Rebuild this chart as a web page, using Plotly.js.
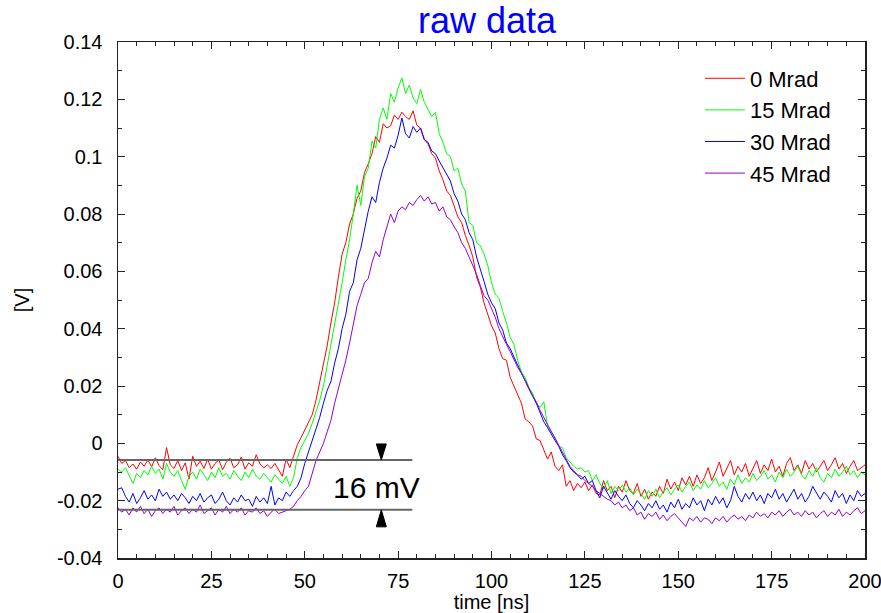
<!DOCTYPE html>
<html>
<head>
<meta charset="utf-8">
<script src="https://cdn.plot.ly/plotly-3.0.1.min.js"></script>
<style>html,body{margin:0;padding:0;background:#fff}#chart{width:881px;height:613px}</style>
</head>
<body>
<div id="chart"></div>
<script>
// sampling of the time axis [ns]
const timeStart = 0;
const timeStep = 1;

const seriesNames = ['0 Mrad', '15 Mrad', '30 Mrad', '45 Mrad'];

// signal [V], one value per ns from 0 to 200 ns
const mrad0 = [
-0.0045,-0.0070,-0.0060,-0.0085,-0.0072,-0.0090,-0.0065,-0.0080,-0.0058,-0.0082,
-0.0050,-0.0078,-0.0092,-0.0015,-0.0075,-0.0088,-0.0060,-0.0095,-0.0068,-0.0125,
-0.0045,-0.0080,-0.0062,-0.0088,-0.0055,-0.0090,-0.0070,-0.0058,-0.0092,-0.0066,
-0.0052,-0.0085,-0.0075,-0.0048,-0.0090,-0.0068,-0.0080,-0.0040,-0.0072,-0.0086,
-0.0075,-0.0088,-0.0070,-0.0092,-0.0115,-0.0055,-0.0085,-0.0045,-0.0005,0.0020,
0.0045,0.0070,0.0100,0.0150,0.0215,0.0280,0.0340,0.0420,0.0490,0.0580,
0.0660,0.0700,0.0765,0.0800,0.0855,0.0880,0.0945,0.0975,0.1010,0.1070,
0.1050,0.1115,0.1100,0.1108,0.1145,0.1130,0.1155,0.1140,0.1130,0.1160,
0.1110,0.1100,0.1060,0.1045,0.1010,0.0995,0.0950,0.0920,0.0880,0.0865,
0.0830,0.0790,0.0770,0.0725,0.0690,0.0650,0.0580,0.0545,0.0490,0.0450,
0.0410,0.0385,0.0330,0.0295,0.0290,0.0230,0.0200,0.0165,0.0140,0.0085,
0.0075,0.0060,0.0015,0.0010,-0.0020,-0.0055,-0.0030,-0.0080,-0.0095,-0.0075,
-0.0150,-0.0130,-0.0165,-0.0140,-0.0155,-0.0135,-0.0165,-0.0145,-0.0175,-0.0180,
-0.0130,-0.0165,-0.0150,-0.0190,-0.0150,-0.0170,-0.0130,-0.0165,-0.0175,-0.0140,
-0.0185,-0.0160,-0.0195,-0.0170,-0.0185,-0.0150,-0.0175,-0.0125,-0.0160,-0.0135,
-0.0165,-0.0120,-0.0145,-0.0115,-0.0150,-0.0110,-0.0140,-0.0120,-0.0085,-0.0130,
-0.0100,-0.0065,-0.0115,-0.0090,-0.0060,-0.0110,-0.0080,-0.0100,-0.0070,-0.0115,
-0.0085,-0.0060,-0.0105,-0.0075,-0.0095,-0.0055,-0.0100,-0.0080,-0.0115,-0.0070,
-0.0050,-0.0095,-0.0075,-0.0105,-0.0060,-0.0090,-0.0070,-0.0100,-0.0080,-0.0060,
-0.0095,-0.0075,-0.0050,-0.0090,-0.0070,-0.0105,-0.0080,-0.0060,-0.0095,-0.0085,-0.0075
];

const mrad15 = [
-0.0090,-0.0100,-0.0085,-0.0115,-0.0140,-0.0105,-0.0120,-0.0095,-0.0110,-0.0080,
-0.0105,-0.0090,-0.0125,-0.0070,-0.0100,-0.0115,-0.0095,-0.0130,-0.0160,-0.0115,
-0.0100,-0.0125,-0.0090,-0.0110,-0.0130,-0.0100,-0.0120,-0.0085,-0.0115,-0.0105,
-0.0125,-0.0095,-0.0115,-0.0130,-0.0100,-0.0120,-0.0090,-0.0115,-0.0125,-0.0105,
-0.0120,-0.0135,-0.0110,-0.0125,-0.0140,-0.0115,-0.0150,-0.0120,-0.0050,-0.0015,
0.0010,0.0035,0.0070,0.0110,0.0150,0.0200,0.0270,0.0340,0.0410,0.0490,
0.0560,0.0640,0.0710,0.0800,0.0900,0.0830,0.0930,0.0960,0.1055,0.1030,
0.1130,0.1170,0.1130,0.1220,0.1190,0.1240,0.1275,0.1220,0.1250,0.1205,
0.1185,0.1235,0.1190,0.1165,0.1140,0.1155,0.1080,0.1050,0.1010,0.1000,
0.0950,0.0960,0.0905,0.0880,0.0770,0.0760,0.0700,0.0690,0.0660,0.0620,
0.0560,0.0520,0.0505,0.0460,0.0420,0.0370,0.0345,0.0290,0.0250,0.0230,
0.0195,0.0175,0.0140,0.0125,0.0145,0.0060,0.0040,0.0020,-0.0010,-0.0015,
-0.0050,-0.0065,-0.0080,-0.0090,-0.0085,-0.0100,-0.0095,-0.0130,-0.0110,-0.0140,
-0.0160,-0.0130,-0.0175,-0.0150,-0.0165,-0.0145,-0.0170,-0.0155,-0.0180,-0.0160,
-0.0175,-0.0195,-0.0165,-0.0185,-0.0160,-0.0190,-0.0170,-0.0155,-0.0180,-0.0160,
-0.0145,-0.0170,-0.0150,-0.0135,-0.0165,-0.0145,-0.0160,-0.0130,-0.0155,-0.0140,
-0.0120,-0.0150,-0.0135,-0.0160,-0.0125,-0.0145,-0.0110,-0.0140,-0.0120,-0.0135,
-0.0105,-0.0130,-0.0115,-0.0095,-0.0125,-0.0110,-0.0135,-0.0100,-0.0120,-0.0090,
-0.0115,-0.0100,-0.0080,-0.0110,-0.0125,-0.0095,-0.0115,-0.0085,-0.0120,-0.0135,
-0.0105,-0.0120,-0.0090,-0.0115,-0.0100,-0.0080,-0.0110,-0.0095,-0.0120,-0.0100,-0.0110
];

const mrad30 = [
-0.0160,-0.0155,-0.0185,-0.0205,-0.0175,-0.0210,-0.0190,-0.0165,-0.0195,-0.0180,
-0.0200,-0.0160,-0.0185,-0.0170,-0.0195,-0.0180,-0.0200,-0.0175,-0.0190,-0.0210,
-0.0185,-0.0200,-0.0175,-0.0205,-0.0190,-0.0180,-0.0210,-0.0195,-0.0170,-0.0200,
-0.0215,-0.0190,-0.0205,-0.0180,-0.0200,-0.0195,-0.0220,-0.0185,-0.0205,-0.0190,
-0.0210,-0.0150,-0.0215,-0.0190,-0.0200,-0.0170,-0.0185,-0.0165,-0.0150,-0.0120,
-0.0070,-0.0030,0.0010,0.0050,0.0090,0.0140,0.0185,0.0215,0.0280,0.0330,
0.0400,0.0450,0.0530,0.0560,0.0640,0.0680,0.0750,0.0810,0.0860,0.0840,
0.0910,0.0960,0.0995,0.1040,0.1030,0.1075,0.1135,0.1080,0.1065,0.1105,
0.1085,0.1100,0.1060,0.1050,0.1020,0.1010,0.0985,0.0960,0.0935,0.0915,
0.0870,0.0845,0.0800,0.0780,0.0735,0.0710,0.0650,0.0610,0.0565,0.0520,
0.0490,0.0470,0.0420,0.0395,0.0350,0.0330,0.0300,0.0275,0.0245,0.0220,
0.0190,0.0165,0.0140,0.0110,0.0075,0.0055,0.0030,0.0010,-0.0010,-0.0040,
-0.0060,-0.0085,-0.0100,-0.0110,-0.0125,-0.0115,-0.0140,-0.0130,-0.0165,-0.0190,
-0.0150,-0.0175,-0.0195,-0.0165,-0.0185,-0.0200,-0.0180,-0.0210,-0.0225,-0.0200,
-0.0215,-0.0235,-0.0210,-0.0225,-0.0200,-0.0230,-0.0215,-0.0240,-0.0205,-0.0225,
-0.0195,-0.0230,-0.0210,-0.0225,-0.0190,-0.0215,-0.0200,-0.0235,-0.0195,-0.0215,
-0.0185,-0.0210,-0.0190,-0.0225,-0.0200,-0.0150,-0.0185,-0.0205,-0.0175,-0.0195,
-0.0170,-0.0200,-0.0180,-0.0210,-0.0175,-0.0190,-0.0160,-0.0195,-0.0175,-0.0205,
-0.0180,-0.0160,-0.0195,-0.0175,-0.0205,-0.0185,-0.0150,-0.0175,-0.0195,-0.0170,
-0.0185,-0.0205,-0.0165,-0.0190,-0.0175,-0.0210,-0.0180,-0.0200,-0.0165,-0.0185,-0.0175
];

const mrad45 = [
-0.0225,-0.0240,-0.0230,-0.0250,-0.0225,-0.0240,-0.0220,-0.0245,-0.0230,-0.0255,
-0.0235,-0.0225,-0.0245,-0.0230,-0.0240,-0.0220,-0.0250,-0.0235,-0.0225,-0.0245,
-0.0230,-0.0240,-0.0215,-0.0245,-0.0235,-0.0225,-0.0250,-0.0230,-0.0240,-0.0220,
-0.0245,-0.0230,-0.0240,-0.0225,-0.0250,-0.0235,-0.0240,-0.0225,-0.0245,-0.0235,
-0.0255,-0.0240,-0.0230,-0.0245,-0.0240,-0.0235,-0.0230,-0.0220,-0.0200,-0.0185,
-0.0165,-0.0150,-0.0100,-0.0060,-0.0030,0.0000,0.0040,0.0080,0.0140,0.0190,
0.0230,0.0290,0.0350,0.0420,0.0480,0.0520,0.0560,0.0575,0.0630,0.0670,
0.0650,0.0710,0.0760,0.0800,0.0770,0.0810,0.0825,0.0815,0.0840,0.0830,
0.0850,0.0865,0.0845,0.0860,0.0835,0.0840,0.0810,0.0825,0.0790,0.0780,
0.0755,0.0735,0.0700,0.0680,0.0650,0.0620,0.0590,0.0550,0.0515,0.0500,
0.0470,0.0440,0.0400,0.0370,0.0345,0.0320,0.0290,0.0265,0.0245,0.0215,
0.0190,0.0165,0.0145,0.0115,0.0090,0.0070,0.0040,0.0015,-0.0005,-0.0030,
-0.0060,-0.0080,-0.0095,-0.0110,-0.0115,-0.0130,-0.0140,-0.0150,-0.0165,-0.0175,
-0.0185,-0.0195,-0.0200,-0.0215,-0.0205,-0.0225,-0.0215,-0.0235,-0.0225,-0.0250,
-0.0240,-0.0265,-0.0245,-0.0255,-0.0240,-0.0265,-0.0250,-0.0270,-0.0255,-0.0245,
-0.0260,-0.0275,-0.0290,-0.0260,-0.0270,-0.0255,-0.0275,-0.0260,-0.0265,-0.0280,
-0.0260,-0.0270,-0.0255,-0.0275,-0.0260,-0.0250,-0.0265,-0.0255,-0.0270,-0.0250,
-0.0260,-0.0240,-0.0255,-0.0245,-0.0260,-0.0240,-0.0250,-0.0235,-0.0255,-0.0240,
-0.0230,-0.0250,-0.0240,-0.0255,-0.0235,-0.0250,-0.0240,-0.0260,-0.0245,-0.0235,
-0.0255,-0.0240,-0.0250,-0.0230,-0.0255,-0.0240,-0.0250,-0.0235,-0.0225,-0.0245,-0.0235
];

const seriesValues = [mrad0, mrad15, mrad30, mrad45];
const seriesColors = ['#ff0000', '#00ff00', '#0000ff', '#9400d3'];

const xTickVals = [0, 25, 50, 75, 100, 125, 150, 175, 200];
const xTickText = ['0', '25', '50', '75', '100', '125', '150', '175', '200'];
const yTickVals = [-0.04, -0.02, 0, 0.02, 0.04, 0.06, 0.08, 0.1, 0.12, 0.14];
const yTickText = ['-0.04', '-0.02', '0', '0.02', '0.04', '0.06', '0.08', '0.1', '0.12', '0.14'];

// baseline markers for the "16 mV" annotation
const baselineHigh = -0.0058;
const baselineLow = -0.0232;
const markerEnd = 78.8;
const arrowAt = 70.5;

const traces = seriesValues.map((vals, i) => ({
  type: 'scatter', mode: 'lines',
  x0: timeStart, dx: timeStep, y: vals,
  name: seriesNames[i],
  line: {color: seriesColors[i], width: 1}
}));

const FONT = 'Liberation Sans, Arial, Helvetica, sans-serif';

const axisCommon = {
  showgrid: false, zeroline: false,
  showline: true, linecolor: '#222', linewidth: 1.5,
  mirror: 'ticks', ticks: 'inside', ticklen: 7, tickwidth: 1, tickcolor: '#222',
  ticklabeloverflow: 'allow',
  tickfont: {family: FONT, size: 20, color: '#000'}
};

const layout = {
  width: 881, height: 613,
  margin: {l: 118, r: 16, t: 42, b: 55},
  paper_bgcolor: '#fff', plot_bgcolor: '#fff',
  font: {family: FONT, color: '#000'},
  title: {text: 'raw data', font: {family: FONT, size: 36, color: '#0000ff'},
          x: 0.494, xref: 'paper', xanchor: 'center', y: 0.966, yref: 'container', yanchor: 'middle'},
  showlegend: true,
  legend: {x: 0.779, y: 0.97, xanchor: 'left', yanchor: 'top', bgcolor: 'rgba(0,0,0,0)',
           borderwidth: 0, font: {family: FONT, size: 22, color: '#000'}, itemwidth: 40},
  xaxis: Object.assign({}, axisCommon, {
    range: [0, 200], tickmode: 'array', tickvals: xTickVals, ticktext: xTickText,
    minor: {dtick: 5, ticks: 'inside', ticklen: 4, tickcolor: '#222', showgrid: false},
    ticklabelstandoff: 4,
    title: {text: 'time [ns]', font: {family: FONT, size: 20, color: '#000'}, standoff: 6}
  }),
  yaxis: Object.assign({}, axisCommon, {
    range: [-0.04, 0.14], tickmode: 'array', tickvals: yTickVals, ticktext: yTickText,
    minor: {dtick: 0.01, ticks: 'inside', ticklen: 4, tickcolor: '#222', showgrid: false},
    ticklabelstandoff: 10,
    title: {text: '[V]', font: {family: FONT, size: 20, color: '#000'}, standoff: 22}
  }),
  shapes: [
    {type: 'line', xref: 'x', yref: 'y', x0: 0, x1: markerEnd, y0: baselineHigh, y1: baselineHigh,
     line: {color: '#666', width: 2}},
    {type: 'line', xref: 'x', yref: 'y', x0: 0, x1: markerEnd, y0: baselineLow, y1: baselineLow,
     line: {color: '#666', width: 2}},
    {type: 'path', xref: 'x', yref: 'y', xsizemode: 'pixel', ysizemode: 'pixel',
     xanchor: arrowAt, yanchor: baselineHigh, path: 'M -5,16 L 5,16 L 0,0 Z',
     fillcolor: '#000', line: {color: '#000', width: 1}},
    {type: 'path', xref: 'x', yref: 'y', xsizemode: 'pixel', ysizemode: 'pixel',
     xanchor: arrowAt, yanchor: baselineLow, path: 'M -5,-17 L 5,-17 L 0,0 Z',
     fillcolor: '#000', line: {color: '#000', width: 1}}
  ],
  annotations: [
    {xref: 'x', yref: 'y', x: 69.1, y: -0.0153, text: '16 mV', showarrow: false,
     xanchor: 'center', yanchor: 'middle', font: {family: FONT, size: 30, color: '#000'}}
  ]
};

Plotly.newPlot('chart', traces, layout, {displayModeBar: false, staticPlot: true});
</script>
</body>
</html>
